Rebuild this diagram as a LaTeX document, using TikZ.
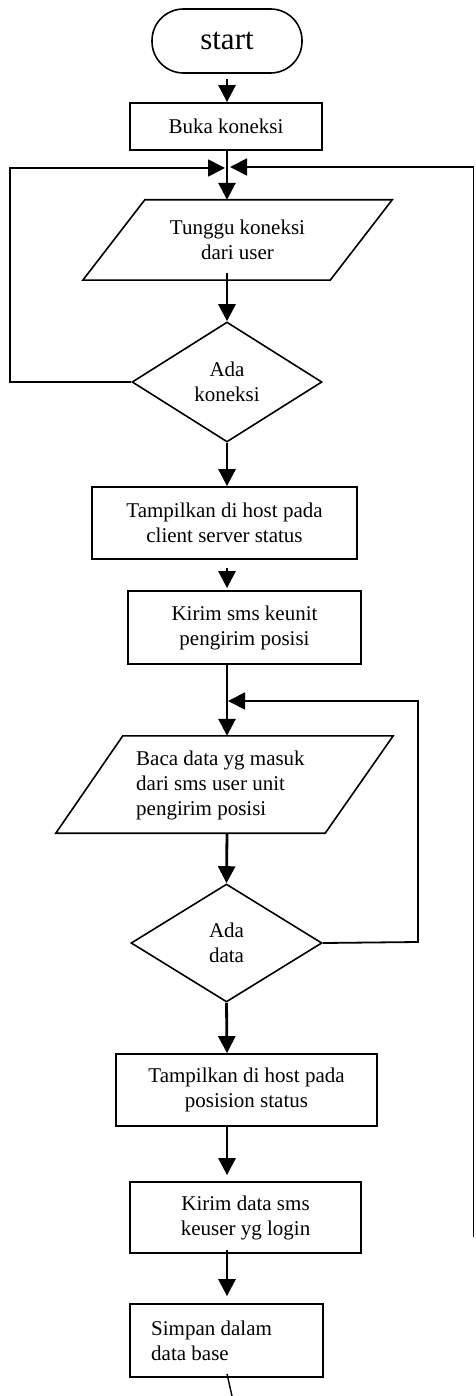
\documentclass[tikz,border=0pt]{standalone}
\usepackage{fontspec}
\setmainfont{Liberation Serif}
\usetikzlibrary{arrows.meta,shapes.geometric}
\begin{document}
\begin{tikzpicture}[x=1pt,y=-1pt,
  every node/.style={font=\fontsize{21}{25}\selectfont, inner sep=0pt},
  boxnode/.style={draw, line width=1.8pt, rectangle, align=center},
  dec/.style={draw, line width=1.6pt, diamond, align=center},
  shape line/.style={line width=1.6pt, line join=miter},
  conn/.style={line width=2.8pt, -{Triangle[length=17pt,width=17pt]}},
  looparrow/.style={line width=1.8pt, -{Triangle[length=17pt,width=17pt]}}]
\useasboundingbox (0,0) rectangle (475,1396);
\coordinate (ax) at (227,0);

% start terminal
\node[draw, line width=1.6pt, rounded corners=31.5pt, minimum width=150pt, minimum height=64pt,
      font=\fontsize{31}{37}\selectfont] (start) at (227,41) {start};
% Buka koneksi
\node[boxnode, minimum width=192pt, minimum height=47pt] (buka) at (226,126.5) {Buka koneksi};
% Tunggu koneksi (parallelogram)
\node[rectangle, minimum width=309pt, minimum height=80pt, align=center] (tunggu) at (237.5,240) {Tunggu koneksi\\dari user};
\draw[shape line] ([xshift=62pt]tunggu.north west) -- (tunggu.north east)
  -- ([xshift=-62pt]tunggu.south east) -- (tunggu.south west) -- cycle;
% decision 1
\node[dec, minimum width=190pt, minimum height=120pt] (d1) at (227,382) {Ada\\koneksi};
% Tampilkan 1
\node[boxnode, minimum width=265pt, minimum height=72pt] (tamp1) at (224.5,523) {Tampilkan di host pada\\client server status};
% Kirim sms
\node[boxnode, minimum width=233pt, minimum height=73pt] (kirim1) at (244.5,627.5) {Kirim sms keunit\\pengirim posisi};
% Baca data (parallelogram)
\node[rectangle, minimum width=337pt, minimum height=97pt] (baca) at (224.5,784.5) {};
\draw[shape line] ([xshift=67pt]baca.north west) -- (baca.north east)
  -- ([xshift=-68pt]baca.south east) -- (baca.south west) -- cycle;
\node[anchor=west, align=left] (bacatxt) at (136,785) {Baca data yg masuk\\dari sms user unit\\pengirim posisi};
% decision 2
\node[dec, minimum width=191pt, minimum height=118pt] (d2) at (226.5,943) {Ada\\data};
% Tampilkan 2
\node[boxnode, minimum width=261pt, minimum height=72pt] (tamp2) at (246.5,1090) {Tampilkan di host pada\\posision status};
% Kirim data
\node[boxnode, minimum width=231pt, minimum height=71pt] (kirim2) at (245.5,1217.5) {Kirim data sms\\keuser yg login};
% Simpan
\node[boxnode, minimum width=193pt, minimum height=73pt] (simpan) at (226.5,1340.5) {};
\node[anchor=west, align=left] (simpantxt) at (151,1341) {Simpan dalam\\data base};

% main connectors (note: y axis points down, so positive yshift moves up)
\draw[conn] ([yshift=-5pt]ax |- start.south) -- (ax |- buka.north);
\draw[conn] (ax |- buka.south) -- (ax |- tunggu.north);
\draw[conn] ([yshift=7pt]ax |- tunggu.south) -- (d1.north);
\draw[conn] (d1.south) -- (ax |- tamp1.north);
\draw[conn] ([yshift=-8pt]ax |- tamp1.south) -- ([yshift=2pt]ax |- kirim1.north);
\draw[conn] (ax |- kirim1.south) -- (ax |- baca.north);
\draw[conn] (ax |- baca.south) -- (d2.north);
\draw[conn] (d2.south) -- (ax |- tamp2.north);
\draw[conn] (ax |- tamp2.south) -- ([yshift=6pt]ax |- kirim2.north);
\draw[conn] ([yshift=4pt]ax |- kirim2.south) -- ([yshift=7pt]ax |- simpan.north);

% loop from decision 1 back
\coordinate (l1a) at (10,382);
\coordinate (l1b) at (10,168);
\draw[looparrow] (d1.west) -- (l1a) -- (l1b) -- ([xshift=-2pt]ax |- l1b);

% long right return line
\coordinate (r1a) at (473.5,1237);
\coordinate (r1b) at (473.5,167);
\draw[looparrow] (r1a) -- (r1b) -- ([xshift=3pt]ax |- r1b);

% loop from decision 2 back
\coordinate (l2a) at (418,942);
\coordinate (l2b) at (418,701);
\draw[looparrow] (d2.east) -- (l2a) -- (l2b) -- ([xshift=1pt]ax |- l2b);

% cut line below Simpan
\coordinate (cutend) at (232,1396);
\draw[line width=1.4pt] ([yshift=4pt]ax |- simpan.south) -- (cutend);
\end{tikzpicture}
\end{document}
